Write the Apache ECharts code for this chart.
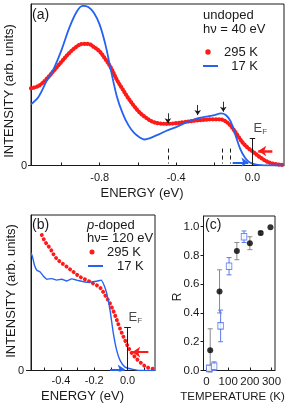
<!DOCTYPE html>
<html><head><meta charset="utf-8">
<script src="https://cdn.jsdelivr.net/npm/echarts@6/dist/echarts.min.js"></script>
<style>html,body{margin:0;padding:0;background:#fff}#c{width:289px;height:410px}</style>
</head><body><div id="c"></div>
<script>
// ---- Panel (a): undoped, hv = 40 eV ----
const energyA17K = [-1.16,-1.12,-1.08,-1.04,-1.0,-0.96,-0.92,-0.89,-0.86,-0.83,-0.80,-0.77,-0.74,-0.71,-0.68,-0.65,-0.62,-0.59,-0.565,-0.54,-0.50,-0.45,-0.40,-0.35,-0.30,-0.25,-0.20,-0.165,-0.14,-0.115,-0.09,-0.065,-0.04,-0.02,0.0,0.03,0.06,0.165];
const intensityA17K = [37.9,42.6,51.9,60.2,71.6,85.1,95.4,98.9,98.1,94.4,87.1,74.7,58.1,42.6,32.3,25.0,20.2,17.4,16.1,16.8,18.8,21.5,23.8,26.5,28.8,30.1,31.2,32.3,31.3,27.5,19.0,10.5,5.0,2.4,1.2,0.4,0.1,0];
const energyA295K = [-1.16,-1.12,-1.08,-1.04,-1.0,-0.96,-0.92,-0.89,-0.86,-0.83,-0.80,-0.77,-0.74,-0.71,-0.68,-0.65,-0.62,-0.59,-0.56,-0.53,-0.50,-0.45,-0.40,-0.35,-0.30,-0.25,-0.20,-0.17,-0.14,-0.11,-0.08,-0.05,-0.02,0.0,0.035,0.07,0.10,0.14,0.165];
const intensityA295K = [47.8,49.3,53.4,58.8,64.3,69.6,73.7,75.3,75.3,73.3,70.6,65.8,60.2,53.0,47.2,41.6,36.8,32.7,29.8,27.5,26.3,25.8,26.2,27.0,27.8,28.3,28.6,28.6,27.3,24.0,19.0,14.0,10.5,8.8,5.5,2.8,1.4,0.5,0.3];
const featureEnergiesA = [-0.443,-0.287,-0.153];   // small down arrows
const dashEnergiesA = [-0.443,-0.16,-0.116];       // dashed markers
const xTicksA = [-1.0,-0.8,-0.6,-0.4,-0.2,0.0];
const xLabelsA = [-0.8,-0.4,0.0];

// ---- Panel (b): p-doped, hv = 120 eV ----
const energyB17K = [-0.58,-0.571,-0.559,-0.545,-0.525,-0.505,-0.485,-0.455,-0.425,-0.395,-0.365,-0.335,-0.305,-0.275,-0.245,-0.215,-0.185,-0.159,-0.141,-0.125,-0.105,-0.085,-0.065,-0.045,-0.015,0.025,0.075,0.165];
const intensityB17K = [75.7,73.1,67.7,64.5,63.4,60.6,58.7,59.1,58.1,58.7,57.6,58.9,58.1,57.4,56.8,57.0,57.4,58.1,54.8,49.5,38.7,23.7,12.9,6.5,2.2,0.9,0,0];
const energyB295K = [-0.515,-0.495,-0.465,-0.435,-0.405,-0.365,-0.325,-0.285,-0.245,-0.205,-0.165,-0.135,-0.105,-0.075,-0.045,-0.015,0.015,0.045,0.075,0.115,0.155];
const intensityB295K = [87.1,82.8,78.5,73.1,69.9,66.7,63.4,60.2,58.1,55.9,53.3,48.4,43.0,35.5,26.9,19.4,12.9,8.6,5.4,2.2,1.1];
const xTicksB = [-0.5,-0.4,-0.3,-0.2,-0.1,0.0,0.1];
const xLabelsB = [-0.4,-0.2,0.0];

// ---- Panel (c): R vs temperature ----
const tempBlack = [17,60,140,200,250,295];
const rBlack = [0.14,0.55,0.83,0.885,0.955,0.995];
const errBlack = [0.15,0.15,0.06,0.045,0.012,0];
const tempBlue = [12,35,65,104,173];
const rBlue = [0.015,0.03,0.31,0.725,0.93];
const errBlue = [0.02,0.03,0.11,0.06,0.04];
const xTicksC = [0,100,200,300];
const yTicksC = [0,0.2,0.4,0.6,0.8,1.0];

const FONT = '"Liberation Sans", Arial, sans-serif';
const RED = '#ff1a1a', BLUE = '#2462f2', INK = '#1a1a1a';
const zip = (a,b) => a.map((v,i)=>[v,b[i]]);

function errRender(color){
  return function(params, api){
    const x = api.value(0), y = api.value(1), e = api.value(2);
    if (!e) return null;
    const t = api.coord([x, y+e]), b = api.coord([x, y-e]);
    const w = 2.5, st = {stroke: color, lineWidth: 1};
    return {type:'group', children:[
      {type:'line', shape:{x1:t[0],y1:t[1],x2:b[0],y2:b[1]}, style:st},
      {type:'line', shape:{x1:t[0]-w,y1:t[1],x2:t[0]+w,y2:t[1]}, style:st},
      {type:'line', shape:{x1:b[0]-w,y1:b[1],x2:b[0]+w,y2:b[1]}, style:st}
    ]};
  };
}

const efRich = {e:{fontSize:13,fontFamily:FONT,color:INK,lineHeight:14}, f:{fontSize:8,fontFamily:FONT,color:INK,verticalAlign:'bottom',lineHeight:10,padding:[6,0,0,0]}};

function xAxisCfg(grid, min, max, ticks, labels, margin){
  return {type:'value', gridIndex:grid, min:min, max:max,
    axisLine:{show:true,onZero:false,lineStyle:{color:INK,width:1}},
    axisTick:{show:true,inside:true,length:3,customValues:ticks,lineStyle:{color:INK}},
    axisLabel:{customValues:labels,margin:margin,fontSize:11,fontFamily:FONT,color:INK,hideOverlap:false,
      formatter:v=>(Math.abs(v)<1e-9?0:v).toFixed(1)},
    splitLine:{show:false}};
}
function yAxisZero(grid, tickLen, margin){
  return {type:'value', gridIndex:grid, min:0, max:100,
    axisLine:{show:true,onZero:false,lineStyle:{color:INK,width:1}},
    axisTick:{show:true,inside:false,length:tickLen,customValues:[0],lineStyle:{color:INK}},
    axisLabel:{customValues:[0],margin:margin,fontSize:11,fontFamily:FONT,color:INK,formatter:()=> '0'},
    splitLine:{show:false}};
}
function txt(x,y,text,size,align,extra){
  return Object.assign({type:'text', x:x, y:y, silent:true,
    style:Object.assign({text:text, fill:INK, font:size+'px '+FONT, align:align||'left', textAlign:align||'left', verticalAlign:'middle', textVerticalAlign:'middle'}, extra||{})});
}

const chart = echarts.init(document.getElementById('c'), null, {renderer:'canvas'});
chart.setOption({
  animation:false,
  backgroundColor:'#fff',
  grid:[
    {left:31, top:4, width:253, height:161.5, show:true, borderColor:INK, borderWidth:1, backgroundColor:'transparent'},
    {left:31, top:215, width:124, height:155.5, show:true, borderColor:INK, borderWidth:1, backgroundColor:'transparent'},
    {left:203.5, top:216, width:71.5, height:154.5, show:true, borderColor:INK, borderWidth:1, backgroundColor:'transparent'}
  ],
  xAxis:[
    xAxisCfg(0, -1.16, 0.165, xTicksA, xLabelsA, 7),
    xAxisCfg(1, -0.58, 0.165, xTicksB, xLabelsB, 5),
    {type:'value', gridIndex:2, min:-14, max:316,
      axisLine:{show:true,onZero:false,lineStyle:{color:INK}},
      axisTick:{show:true,inside:true,length:3,customValues:xTicksC,lineStyle:{color:INK}},
      axisLabel:{customValues:xTicksC,margin:5,fontSize:11.5,fontFamily:FONT,color:INK,hideOverlap:false},
      splitLine:{show:false}}
  ],
  yAxis:[
    yAxisZero(0, 3, 4),
    yAxisZero(1, 5, 7),
    {type:'value', gridIndex:2, min:0, max:1.074,
      axisLine:{show:true,onZero:false,lineStyle:{color:INK}},
      axisTick:{show:true,inside:false,length:3,customValues:yTicksC,lineStyle:{color:INK}},
      axisLabel:{customValues:yTicksC,margin:4,fontSize:11.5,fontFamily:FONT,color:INK,formatter:v=>v.toFixed(1)},
      splitLine:{show:false}}
  ],
  series:[
    // panel a
    {type:'line', name:'295 K a', xAxisIndex:0, yAxisIndex:0, data:zip(energyA295K,intensityA295K), showSymbol:false, symbol:'none', smooth:0.35,
      lineStyle:{color:RED, width:4.2, type:[0.1,3], cap:'round'}, z:2},
    {type:'line', name:'17 K a', xAxisIndex:0, yAxisIndex:0, data:zip(energyA17K,intensityA17K), showSymbol:false, symbol:'none', smooth:0.35,
      lineStyle:{color:BLUE, width:1.8}, z:3},
    {type:'lines', coordinateSystem:'cartesian2d', xAxisIndex:0, yAxisIndex:0, symbol:['none','arrow'], symbolSize:[0,5],
      lineStyle:{color:INK, width:0.9, opacity:1},
      data:[
        {coords:[[featureEnergiesA[0],32.3],[featureEnergiesA[0],26.1]]},
        {coords:[[featureEnergiesA[1],37.5],[featureEnergiesA[1],31.2]]},
        {coords:[[featureEnergiesA[2],39.5],[featureEnergiesA[2],33.3]]}
      ], z:4},
    {type:'lines', coordinateSystem:'cartesian2d', xAxisIndex:0, yAxisIndex:0, symbol:'none',
      lineStyle:{color:INK, width:1, type:[4,3], opacity:1},
      data:dashEnergiesA.map(e=>({coords:[[e,10.5],[e,1.2]]})), z:4},
    {type:'lines', coordinateSystem:'cartesian2d', xAxisIndex:0, yAxisIndex:0, symbol:'none',
      lineStyle:{color:INK, width:1, opacity:1},
      data:[{coords:[[0,0],[0,16.8]]},{coords:[[-0.014,16.8],[0.014,16.8]]}], z:4},
    {type:'lines', coordinateSystem:'cartesian2d', xAxisIndex:0, yAxisIndex:0, symbol:['none','arrow'], symbolSize:[0,8],
      lineStyle:{color:RED, width:2.6, opacity:1}, data:[{coords:[[0.104,9],[0.03,9]]}], z:5},
    {type:'lines', coordinateSystem:'cartesian2d', xAxisIndex:0, yAxisIndex:0, symbol:['none','arrow'], symbolSize:[0,7],
      lineStyle:{color:BLUE, width:2.2, opacity:1}, data:[{coords:[[-0.104,2],[-0.022,2]]}], z:5},
    {type:'scatter', xAxisIndex:0, yAxisIndex:0, symbolSize:0, data:[[0,22.7]], silent:true,
      label:{show:true, position:'right', distance:1, formatter:'{e|E}{f|F}', rich:efRich}},
    // panel b
    {type:'line', name:'295 K b', xAxisIndex:1, yAxisIndex:1, data:zip(energyB295K,intensityB295K), showSymbol:false, symbol:'none', smooth:0.35,
      lineStyle:{color:RED, width:3.9, type:[0.1,4.4], cap:'round'}, z:2},
    {type:'line', name:'17 K b', xAxisIndex:1, yAxisIndex:1, data:zip(energyB17K,intensityB17K), showSymbol:false, symbol:'none', smooth:0.2,
      lineStyle:{color:BLUE, width:1.4}, z:3},
    {type:'lines', coordinateSystem:'cartesian2d', xAxisIndex:1, yAxisIndex:1, symbol:'none',
      lineStyle:{color:INK, width:1, opacity:1},
      data:[{coords:[[0,0],[0,28]]},{coords:[[-0.02,28],[0.02,28]]}], z:4},
    {type:'lines', coordinateSystem:'cartesian2d', xAxisIndex:1, yAxisIndex:1, symbol:['none','arrow'], symbolSize:[0,8],
      lineStyle:{color:RED, width:2.2, opacity:1}, data:[{coords:[[0.125,11.8],[0.028,11.8]]}], z:5},
    {type:'lines', coordinateSystem:'cartesian2d', xAxisIndex:1, yAxisIndex:1, symbol:['none','arrow'], symbolSize:[0,7],
      lineStyle:{color:BLUE, width:2.2, opacity:1}, data:[{coords:[[-0.105,0.8],[-0.017,0.8]]}], z:5},
    {type:'scatter', xAxisIndex:1, yAxisIndex:1, symbolSize:0, data:[[0,34]], silent:true,
      label:{show:true, position:'right', distance:1, formatter:'{e|E}{f|F}', rich:efRich}},
    // panel c
    {type:'custom', xAxisIndex:2, yAxisIndex:2, renderItem:errRender('#8a8a8a'), encode:{x:0,y:1},
      data:tempBlack.map((t,i)=>[t,rBlack[i],errBlack[i]]), z:2},
    {type:'custom', xAxisIndex:2, yAxisIndex:2, renderItem:errRender('#5b7bef'), encode:{x:0,y:1},
      data:tempBlue.map((t,i)=>[t,rBlue[i],errBlue[i]]), z:2},
    {type:'scatter', xAxisIndex:2, yAxisIndex:2, data:zip(tempBlue,rBlue), symbol:'rect', symbolSize:[5.5,6.5],
      itemStyle:{color:'#fff', borderColor:'#4d6ef0', borderWidth:1}, z:3},
    {type:'scatter', xAxisIndex:2, yAxisIndex:2, data:zip(tempBlack,rBlack), symbol:'circle', symbolSize:6,
      itemStyle:{color:'#000'}, z:4}
  ],
  graphic:[
    // panel a
    txt(32,15,'(a)',14),
    txt(203,15,'undoped',13),
    txt(203,29.5,'hν = 40 eV',13),
    {type:'circle', shape:{cx:208, cy:52, r:2.7}, style:{fill:RED}, silent:true},
    txt(258,52,'295 K',13,'right'),
    {type:'line', shape:{x1:203,y1:66,x2:218,y2:66}, style:{stroke:BLUE,lineWidth:2}, silent:true},
    txt(258,66,'17 K',13,'right'),
    {type:'text', x:9.5, y:91, rotation:Math.PI/2, silent:true,
      style:{text:'INTENSITY (arb. units)', fill:INK, font:'13px '+FONT, align:'center', textAlign:'center', verticalAlign:'middle', textVerticalAlign:'middle'}},
    txt(142,193,'ENERGY (eV)',13,'center'),
    // panel b
    txt(32,225,'(b)',14),
    {type:'text', x:87, y:225, silent:true,
      style:{text:'{i|p}-doped', fill:INK, font:'13px '+FONT, verticalAlign:'middle', textVerticalAlign:'middle',
        rich:{i:{fontStyle:'italic', fontSize:13, fontFamily:FONT, fill:INK, color:INK}}}},
    txt(87,238.5,'hν= 120 eV',13),
    {type:'circle', shape:{cx:92, cy:252, r:2.5}, style:{fill:RED}, silent:true},
    txt(107,252,'295 K',13),
    {type:'line', shape:{x1:88,y1:266,x2:103,y2:266}, style:{stroke:BLUE,lineWidth:2}, silent:true},
    txt(117,266,'17 K',13),
    {type:'text', x:11, y:291, rotation:Math.PI/2, silent:true,
      style:{text:'INTENSITY (arb. units)', fill:INK, font:'13px '+FONT, align:'center', textAlign:'center', verticalAlign:'middle', textVerticalAlign:'middle'}},
    txt(82.5,396.5,'ENERGY (eV)',13,'center'),
    // panel c
    txt(205,225,'(c)',14),
    {type:'text', x:178, y:297, rotation:Math.PI/2, silent:true,
      style:{text:'R', fill:INK, font:'12px '+FONT, align:'center', textAlign:'center', verticalAlign:'middle', textVerticalAlign:'middle'}},
    txt(232.5,396.5,'TEMPERATURE (K)',11.5,'center')
  ]
});
</script>
</body></html>
